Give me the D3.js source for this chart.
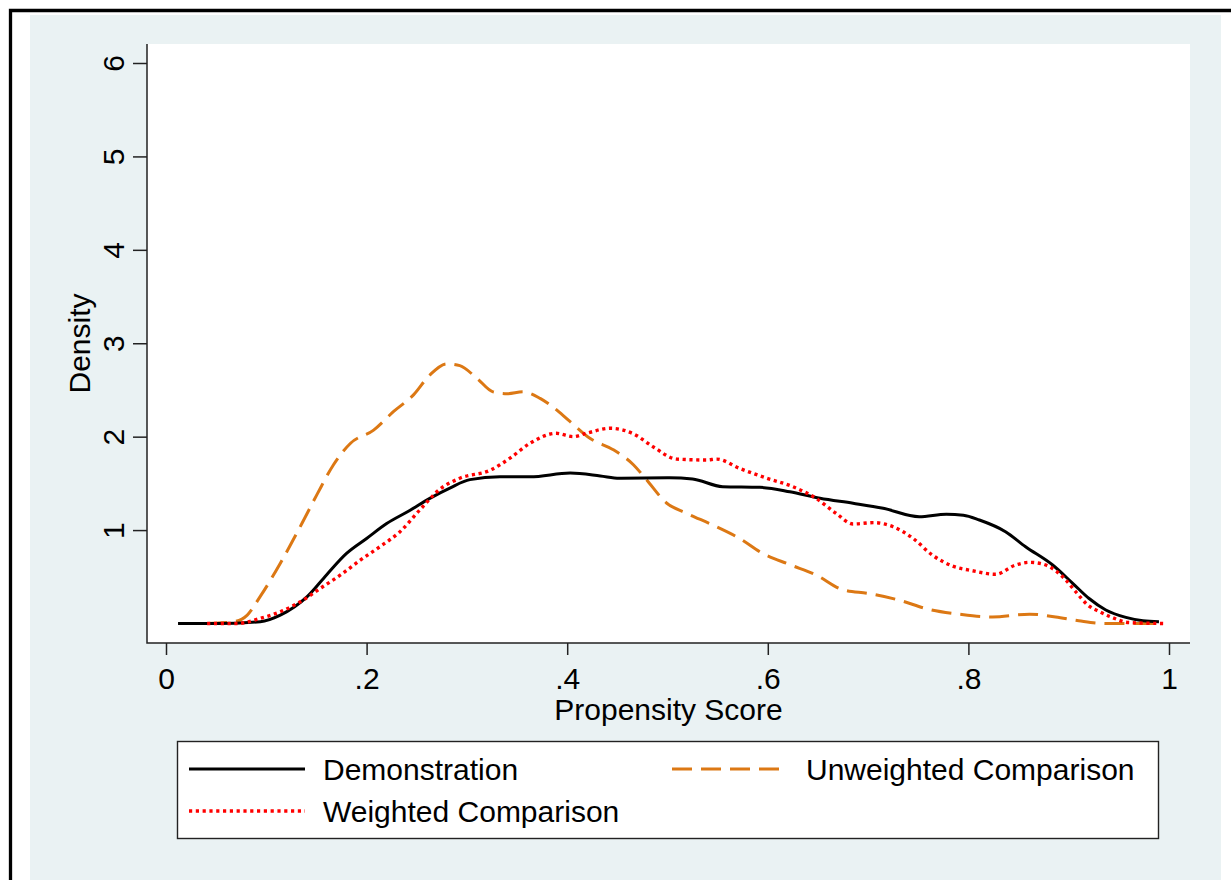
<!DOCTYPE html>
<html>
<head>
<meta charset="utf-8">
<script src="https://cdn.jsdelivr.net/npm/d3@7"></script>
<style>
  html, body { margin: 0; padding: 0; background: #ffffff; }
  svg { display: block; }
  text { font-family: "Liberation Sans", Arial, Helvetica, sans-serif; fill: #000; }
</style>
</head>
<body>
<svg id="chart" width="1231" height="880"></svg>
<script>
// Kernel density estimates of the propensity score
const demoScore   = [0.012, 0.05, 0.094, 0.114, 0.141, 0.160, 0.180, 0.200, 0.220, 0.243, 0.263, 0.283, 0.303, 0.333, 0.363, 0.403, 0.433, 0.452, 0.502, 0.525, 0.555, 0.592, 0.622, 0.652, 0.685, 0.715, 0.751, 0.778, 0.795, 0.811, 0.837, 0.857, 0.884, 0.904, 0.920, 0.937, 0.957, 0.974, 0.990];
const demoDensity = [0.00, 0.00, 0.02, 0.09, 0.29, 0.52, 0.75, 0.91, 1.07, 1.21, 1.34, 1.45, 1.54, 1.57, 1.57, 1.61, 1.58, 1.555, 1.56, 1.547, 1.465, 1.458, 1.41, 1.34, 1.287, 1.233, 1.143, 1.17, 1.16, 1.108, 0.983, 0.822, 0.626, 0.43, 0.27, 0.145, 0.066, 0.03, 0.02];

const unwScore   = [0.041, 0.068, 0.081, 0.094, 0.114, 0.134, 0.151, 0.167, 0.184, 0.207, 0.227, 0.247, 0.263, 0.280, 0.293, 0.310, 0.326, 0.340, 0.356, 0.373, 0.383, 0.403, 0.423, 0.446, 0.466, 0.479, 0.499, 0.519, 0.545, 0.572, 0.595, 0.622, 0.648, 0.675, 0.701, 0.731, 0.761, 0.791, 0.824, 0.861, 0.887, 0.910, 0.937, 0.990];
const unwDensity = [0.00, 0.02, 0.09, 0.29, 0.645, 1.04, 1.39, 1.70, 1.93, 2.07, 2.27, 2.45, 2.66, 2.78, 2.76, 2.625, 2.48, 2.46, 2.48, 2.41, 2.34, 2.16, 1.98, 1.86, 1.70, 1.54, 1.29, 1.18, 1.055, 0.91, 0.75, 0.63, 0.52, 0.36, 0.32, 0.25, 0.15, 0.10, 0.07, 0.10, 0.07, 0.03, 0.00, 0.00];

const wtdScore   = [0.041, 0.071, 0.094, 0.114, 0.134, 0.154, 0.174, 0.194, 0.213, 0.233, 0.253, 0.273, 0.293, 0.323, 0.343, 0.363, 0.389, 0.406, 0.419, 0.443, 0.466, 0.486, 0.509, 0.539, 0.549, 0.572, 0.599, 0.625, 0.648, 0.668, 0.685, 0.705, 0.725, 0.745, 0.764, 0.784, 0.804, 0.827, 0.847, 0.861, 0.874, 0.887, 0.897, 0.907, 0.919, 0.931, 0.944, 0.960, 0.996];
const wtdDensity = [0.00, 0.00, 0.055, 0.126, 0.233, 0.377, 0.52, 0.68, 0.82, 0.98, 1.215, 1.437, 1.555, 1.64, 1.77, 1.93, 2.036, 2.00, 2.036, 2.09, 2.03, 1.89, 1.76, 1.75, 1.76, 1.66, 1.555, 1.465, 1.34, 1.18, 1.065, 1.08, 1.036, 0.91, 0.733, 0.616, 0.565, 0.527, 0.626, 0.655, 0.637, 0.565, 0.466, 0.34, 0.198, 0.126, 0.062, 0.01, 0.00];

const xTicks = [0, 0.2, 0.4, 0.6, 0.8, 1];
const xTickLabels = ["0", ".2", ".4", ".6", ".8", "1"];
const yTicks = [1, 2, 3, 4, 5, 6];

const seriesNames = ["Demonstration", "Unweighted Comparison", "Weighted Comparison"];

const svg = d3.select("#chart");

// page frame and graph region
svg.append("rect").attr("x", 30).attr("y", 15).attr("width", 1191).attr("height", 865).attr("fill", "#eaf2f3");
svg.append("path").attr("d", "M10.5,880 V10.5 H1231").attr("fill", "none").attr("stroke", "#000").attr("stroke-width", 3.3);

// plot region
const plot = { left: 147, top: 44, right: 1190, bottom: 643 };
svg.append("rect")
  .attr("x", plot.left).attr("y", plot.top)
  .attr("width", plot.right - plot.left).attr("height", plot.bottom - plot.top)
  .attr("fill", "#ffffff");

const x = d3.scaleLinear().domain([0, 1]).range([166, 1169]);
const y = d3.scaleLinear().domain([0, 6]).range([623.5, 63]);

// axes
const axisColor = "#222";
const gx = svg.append("g").attr("transform", `translate(0,${plot.bottom})`)
  .call(d3.axisBottom(x).tickValues(xTicks).tickFormat((d, i) => xTickLabels[i]).tickSize(12).tickSizeOuter(0));
gx.select(".domain").remove();
gx.selectAll("line").attr("stroke", axisColor).attr("stroke-width", 1.5);
gx.selectAll("text").attr("y", 46).attr("dy", null).attr("font-size", 30).attr("fill", "#000");

const gy = svg.append("g").attr("transform", `translate(${plot.left},0)`)
  .call(d3.axisLeft(y).tickValues(yTicks).tickFormat(d3.format("d")).tickSize(14).tickSizeOuter(0));
gy.select(".domain").remove();
gy.selectAll("line").attr("stroke", axisColor).attr("stroke-width", 1.5);
gy.selectAll("text")
  .attr("x", null).attr("dy", null)
  .attr("transform", "translate(-23,0) rotate(-90)")
  .attr("text-anchor", "middle")
  .attr("font-size", 30).attr("fill", "#000");

svg.append("path")
  .attr("d", `M${plot.left},${plot.top} V${plot.bottom} H${plot.right}`)
  .attr("fill", "none").attr("stroke", axisColor).attr("stroke-width", 1.5);

// axis titles
svg.append("text").attr("x", (plot.left + plot.right) / 2).attr("y", 720)
  .attr("text-anchor", "middle").attr("font-size", 30).text("Propensity Score");
svg.append("text").attr("transform", `translate(90,${(plot.top + plot.bottom) / 2}) rotate(-90)`)
  .attr("text-anchor", "middle").attr("font-size", 30).text("Density");

// density curves
const styles = [
  { color: "#000000", dash: null, width: 3 },
  { color: "#dc7814", dash: "20 9", width: 3 },
  { color: "#ff0000", dash: "3.2 3.6", width: 3.4 }
];
const seriesData = [
  d3.zip(demoScore, demoDensity),
  d3.zip(unwScore, unwDensity),
  d3.zip(wtdScore, wtdDensity)
];
const line = d3.line().x(d => x(d[0])).y(d => y(d[1])).curve(d3.curveMonotoneX);

// draw order: weighted on top of the demonstration line
[1, 0, 2].forEach(i => {
  svg.append("path")
    .datum(seriesData[i])
    .attr("d", line)
    .attr("fill", "none")
    .attr("stroke", styles[i].color)
    .attr("stroke-width", styles[i].width)
    .attr("stroke-dasharray", styles[i].dash)
    .attr("stroke-linejoin", "round");
});

// legend
const legend = svg.append("g");
legend.append("rect").attr("x", 177.5).attr("y", 741.5).attr("width", 981).attr("height", 97)
  .attr("fill", "#fff").attr("stroke", "#222").attr("stroke-width", 1.4);
const legendItems = [
  { s: 0, kx: 189, ky: 769, tx: 323 },
  { s: 1, kx: 672, ky: 769, tx: 806 },
  { s: 2, kx: 189, ky: 811, tx: 323 }
];
legendItems.forEach(it => {
  const st = styles[it.s];
  legend.append("line")
    .attr("x1", it.kx).attr("x2", it.kx + 116).attr("y1", it.ky).attr("y2", it.ky)
    .attr("stroke", st.color).attr("stroke-width", st.width)
    .attr("stroke-dasharray", st.dash);
  legend.append("text").attr("x", it.tx).attr("y", it.ky + 11)
    .attr("font-size", 30).text(seriesNames[it.s]);
});
</script>
</body>
</html>
